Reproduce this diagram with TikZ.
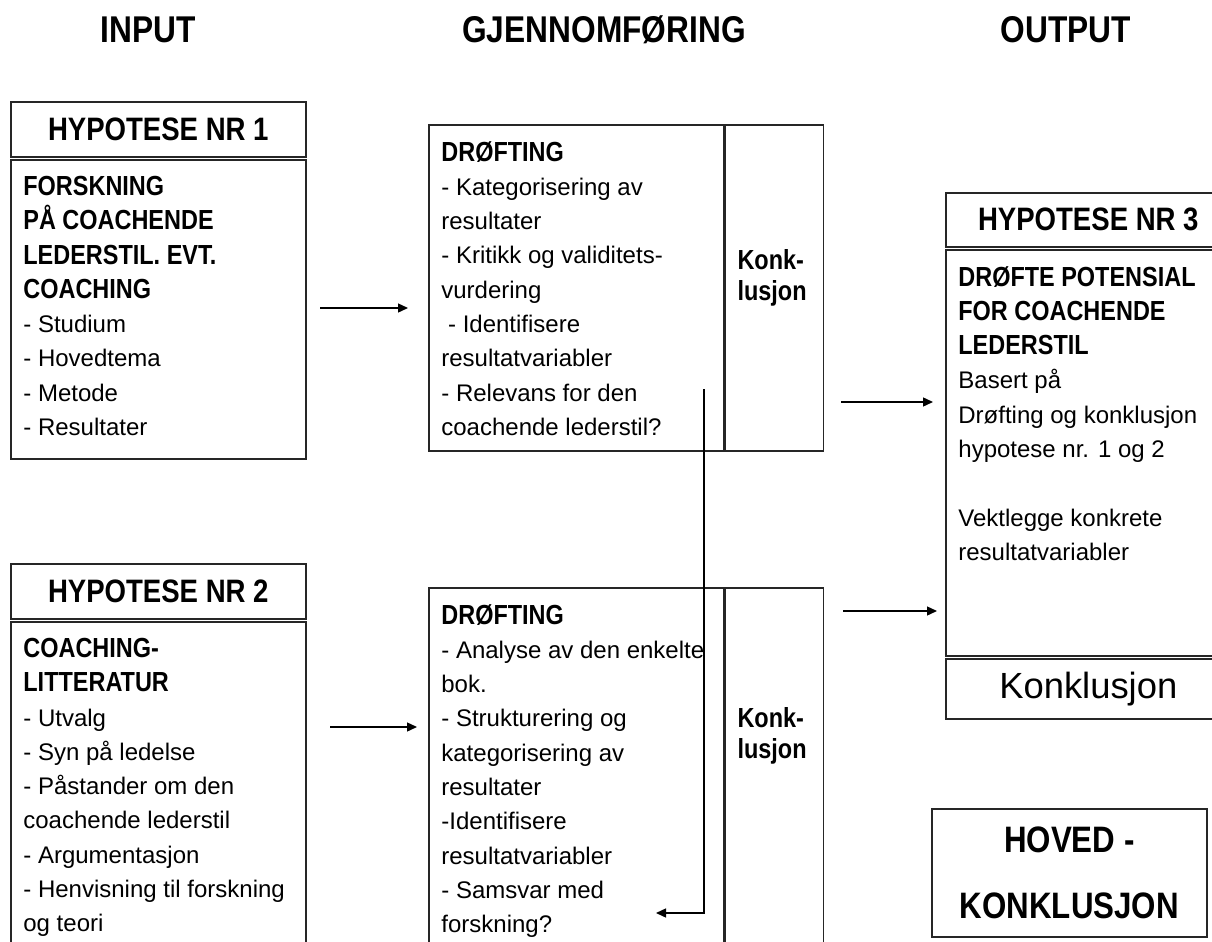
\documentclass[tikz,border=0pt]{standalone}
\usepackage{fontspec}
\setmainfont{Liberation Sans}
\newfontfamily\narrowsans{Liberation Sans}[FakeStretch=0.85,Scale=1.15]
\newcommand{\boldnar}{\narrowsans\bfseries}
\newcommand{\bodyfont}{\fontsize{12}{17.15}\selectfont}
\usetikzlibrary{arrows.meta}

\begin{document}
\begin{tikzpicture}[x=0.5pt,y=-0.5pt,
    frame/.style={draw=black!85,line width=0.8pt,inner sep=0pt,anchor=north west},
    txt/.style={anchor=north west,inner sep=0pt,align=left,font=\bodyfont},
    konk/.style={anchor=north west,inner sep=0pt,align=left,font=\fontsize{12}{15.5}\selectfont\boldnar},
    colhead/.style={anchor=base,font=\fontsize{16.2}{20}\selectfont\boldnar},
    hyphead/.style={frame,font=\fontsize{14.1}{17}\selectfont\boldnar},
    arr/.style={-{Triangle[length=5pt,width=4.5pt]},line width=0.7pt}]

\useasboundingbox (0,0) rectangle (1212,942);
\clip (0,0) rectangle (1212,942);

\node[colhead] (input) at (148,42) {INPUT};
\node[colhead] (gjennom) at (604,42) {GJENNOMFØRING};
\node[colhead] (output) at (1066,42) {OUTPUT};

% input
\node[hyphead,minimum width=147.5pt,minimum height=27.5pt] (hyp1) at (10,101) {HYPOTESE NR 1};
\node[frame,minimum width=147.5pt,minimum height=149.5pt] (hyp1body) at (10,159) {};
\node[txt] (hyp1txt) at ([shift={(13,16.8)}]hyp1body.north west)
    {{\boldnar FORSKNING}\\{\boldnar PÅ COACHENDE}\\{\boldnar LEDERSTIL. EVT.}\\{\boldnar COACHING}\\
     - Studium\\- Hovedtema\\- Metode\\- Resultater};

\node[hyphead,minimum width=147.5pt,minimum height=27.5pt] (hyp2) at (10,563) {HYPOTESE NR 2};
\node[frame,minimum width=147.5pt,minimum height=200pt] (hyp2body) at (10,621) {};
\node[txt] (hyp2txt) at ([shift={(13,16.8)}]hyp2body.north west)
    {{\boldnar COACHING-}\\{\boldnar LITTERATUR}\\- Utvalg\\- Syn på ledelse\\- Påstander om den\\
     coachende lederstil\\- Argumentasjon\\- Henvisning til forskning\\og teori};

% gjennomforing
\node[frame,minimum width=147.5pt,minimum height=163pt] (drof1) at (428,124) {};
\node[frame,minimum width=49pt,minimum height=163pt] (konk1) at (drof1.north east) {};
\node[txt] (drof1txt) at ([shift={(13,16.8)}]drof1.north west)
    {{\boldnar DRØFTING}\\- Kategorisering av\\resultater\\- Kritikk og validitets-\\vurdering\\
     \hspace*{0.28em}- Identifisere\\resultatvariabler\\- Relevans for den\\coachende lederstil?};
\node[konk] (konk1txt) at ([shift={(12.5,125.3)}]konk1.north west) {Konk-\\lusjon};

\node[frame,minimum width=147.5pt,minimum height=200pt] (drof2) at (428,587) {};
\node[frame,minimum width=49pt,minimum height=200pt] (konk2) at (drof2.north east) {};
\node[txt] (drof2txt) at ([shift={(13,16.8)}]drof2.north west)
    {{\boldnar DRØFTING}\\- Analyse av den enkelte\\bok.\\- Strukturering og\\kategorisering av\\
     resultater\\-Identifisere\\resultatvariabler\\- Samsvar med\\forskning?};
\node[konk] (konk2txt) at ([shift={(12.5,120.3)}]konk2.north west) {Konk-\\lusjon};

% output
\node[hyphead,minimum width=142.5pt,minimum height=27pt] (hyp3) at (945,192) {HYPOTESE NR 3};
\node[frame,minimum width=142.5pt,minimum height=203pt] (hyp3body) at (945,249) {};
\node[txt] (hyp3txt) at ([shift={(13,16.8)}]hyp3body.north west)
    {{\boldnar DRØFTE POTENSIAL}\\{\boldnar FOR COACHENDE}\\{\boldnar LEDERSTIL}\\Basert på\\
     Drøfting og konklusjon\\hypotese nr. 1 og 2\\[17.15pt]Vektlegge konkrete\\resultatvariabler};
\node[frame,minimum width=142.5pt,minimum height=30pt,font=\fontsize{18.2}{22}\selectfont] (hyp3konk) at (945,658) {Konklusjon};

\node[frame,minimum width=137.5pt,minimum height=64pt,align=center,
      font=\fontsize{16}{33}\selectfont\boldnar] (hoved) at (931,808) {HOVED -\\KONKLUSJON};

% piler
\coordinate (in1) at (320,308);  \coordinate (ut1) at (408,308);
\coordinate (in2) at (330,727);  \coordinate (ut2) at (417,727);
\coordinate (in3) at (841,402);  \coordinate (ut3) at (933,402);
\coordinate (in4) at (843,611);  \coordinate (ut4) at (937,611);
\coordinate (link) at (704,389); \coordinate (linkend) at (656,913);
\draw[arr] (in1) -- (ut1);
\draw[arr] (in2) -- (ut2);
\draw[arr] (in3) -- (ut3);
\draw[arr] (in4) -- (ut4);
\draw[arr] (link) |- (linkend);

\end{tikzpicture}
\end{document}
